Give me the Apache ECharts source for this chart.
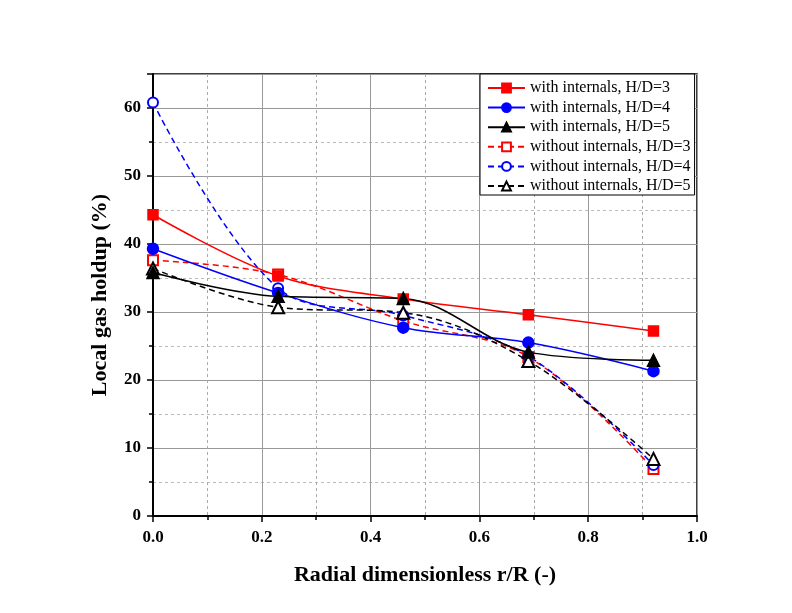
<!DOCTYPE html>
<html><head><meta charset="utf-8">
<script src="https://cdn.jsdelivr.net/npm/echarts@6/dist/echarts.min.js"></script>
<style>html,body{margin:0;padding:0;background:#fff}#c{width:792px;height:613px}</style>
</head><body><div id="c"></div>
<script>
var xValues = [0, 0.23, 0.46, 0.69, 0.92];
var withH3 = [44.3, 35.3, 31.9, 29.6, 27.2];
var withH4 = [39.3, 32.8, 27.7, 25.5, 21.3];
var withH5 = [35.8, 32.3, 32.0, 24.1, 22.9];
var withoutH3 = [37.6, 35.5, 28.7, 23.4, 6.9];
var withoutH4 = [60.8, 33.5, 29.5, 23.5, 7.5];
var withoutH5 = [36.4, 30.7, 29.9, 22.8, 8.4];
var seriesNames = ['with internals, H/D=3','with internals, H/D=4','with internals, H/D=5','without internals, H/D=3','without internals, H/D=4','without internals, H/D=5'];

function pairs(v){ return xValues.map(function(x,i){ return [x, v[i]]; }); }
var font = 'Liberation Serif';
function mk(name, data, color, symbol, dashed, size){
  return {
    name: name, type: 'line', data: pairs(data), smooth: 0.35,
    symbol: symbol, symbolSize: size,
    itemStyle: {color: color, borderColor: color, borderWidth: 1.5},
    lineStyle: {color: color, width: 1.5, type: dashed ? [6,4] : 'solid'},
    z: dashed ? 3 : 4
  };
}
var chart = echarts.init(document.getElementById('c'));
chart.setOption({
  backgroundColor: '#ffffff',
  animation: false,
  grid: {left: 153, right: 95, top: 74, bottom: 97, show: true, borderColor: '#000', borderWidth: 1.5, backgroundColor: 'transparent'},
  legend: {
    orient: 'vertical', left: 480, top: 74,
    backgroundColor: '#fff', borderColor: '#000', borderWidth: 1,
    padding: [6, 4, 1, 7], itemGap: 3.6, itemWidth: 37, itemHeight: 11,
    textStyle: {fontFamily: font, fontSize: 16, color: '#000', lineHeight: 16},
    data: seriesNames
  },
  xAxis: {
    type: 'value', min: 0, max: 1, interval: 0.2,
    name: 'Radial dimensionless r/R (-)', nameLocation: 'middle', nameGap: 48,
    nameTextStyle: {fontFamily: font, fontSize: 22, fontWeight: 'bold', color: '#000'},
    axisLine: {show: true, lineStyle: {color: '#000', width: 2}},
    axisTick: {show: true, length: 6, lineStyle: {color: '#000', width: 1.5}},
    minorTick: {show: true, splitNumber: 2, length: 4, lineStyle: {color: '#000', width: 1.5}},
    axisLabel: {fontFamily: font, fontSize: 17, fontWeight: 'bold', color: '#000', margin: 13, formatter: function(v){ return v.toFixed(1); }},
    splitLine: {show: true, lineStyle: {color: '#999', width: 1}},
    minorSplitLine: {show: true, lineStyle: {color: '#aaa', width: 1, type: [3,3]}}
  },
  yAxis: {
    type: 'value', min: 0, max: 65, interval: 10,
    name: 'Local gas holdup (%)', nameLocation: 'middle', nameGap: 42,
    nameTextStyle: {fontFamily: font, fontSize: 22, fontWeight: 'bold', color: '#000'},
    axisLine: {show: true, lineStyle: {color: '#000', width: 2}},
    axisTick: {show: true, length: 6, lineStyle: {color: '#000', width: 1.5}},
    minorTick: {show: true, splitNumber: 2, length: 4, lineStyle: {color: '#000', width: 1.5}},
    axisLabel: {fontFamily: font, fontSize: 17, fontWeight: 'bold', color: '#000', margin: 12, showMaxLabel: false},
    splitLine: {show: true, lineStyle: {color: '#999', width: 1}},
    minorSplitLine: {show: true, lineStyle: {color: '#bbb', width: 1, type: [3,3]}}
  },
  series: [
    mk(seriesNames[0], withH3, '#ff0000', 'rect', false, 10),
    mk(seriesNames[1], withH4, '#0000ff', 'circle', false, 11),
    mk(seriesNames[2], withH5, '#000000', 'triangle', false, 12),
    mk(seriesNames[3], withoutH3, '#ff0000', 'emptyRect', true, 10),
    mk(seriesNames[4], withoutH4, '#0000ff', 'emptyCircle', true, 10),
    mk(seriesNames[5], withoutH5, '#000000', 'emptyTriangle', true, 12)
  ]
});
</script></body></html>
